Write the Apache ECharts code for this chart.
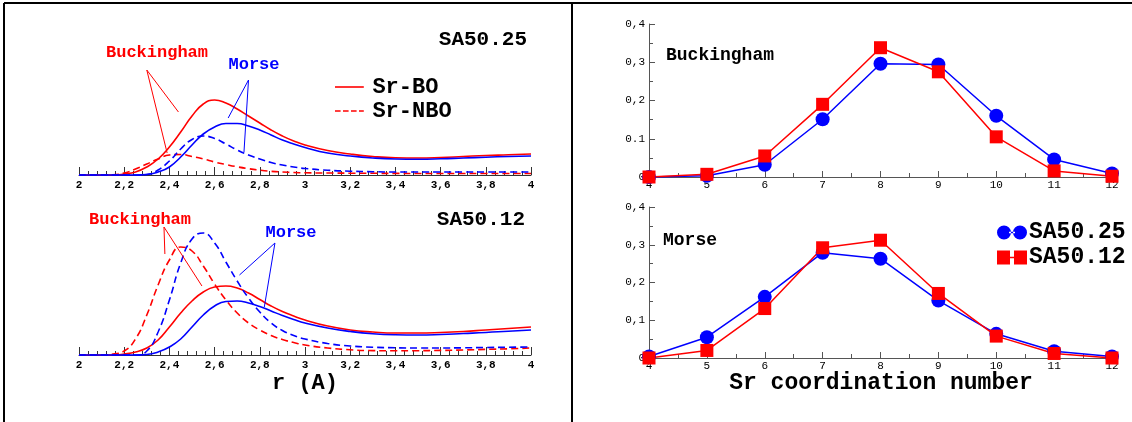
<!DOCTYPE html>
<html><head><meta charset="utf-8">
<script src="https://cdn.jsdelivr.net/npm/echarts@6/dist/echarts.min.js"></script>
<style>html,body{margin:0;padding:0;background:#fff}#c{width:1132px;height:422px}</style>
</head><body><div id="c"></div>
<script>
// ---------- Left panels: Sr-O pair distribution g(r), arbitrary units ----------
const rValues = [2.0,2.05,2.1,2.15,2.2,2.25,2.3,2.35,2.4,2.45,2.5,2.55,2.6,2.65,2.7,2.75,2.8,2.85,2.9,2.95,3.0,3.1,3.2,3.3,3.4,3.5,3.6,3.7,3.8,3.9,4.0];
// SA50.25
const g25_buckBO  = [0,0,0,0,0.1,0.3,0.8,1.6,2.8,4.3,5.9,7.1,7.5,7.2,6.6,5.9,5.2,4.5,3.9,3.4,3.0,2.45,2.1,1.85,1.72,1.7,1.75,1.85,1.95,2.02,2.1];
const g25_buckNBO = [0,0,0,0.02,0.2,0.6,1.1,1.6,2.0,2.05,1.85,1.6,1.3,1.05,0.82,0.63,0.48,0.37,0.3,0.25,0.22,0.2,0.18,0.17,0.16,0.15,0.15,0.15,0.15,0.15,0.15];
const g25_morBO   = [0,0,0,0,0,0,0.05,0.3,0.8,1.8,3.0,4.1,4.8,5.15,5.15,4.9,4.5,4.0,3.5,3.1,2.75,2.2,1.9,1.7,1.6,1.58,1.62,1.7,1.78,1.85,1.9];
const g25_morNBO  = [0,0,0,0,0,0,0.05,0.5,1.4,2.6,3.55,3.9,3.65,3.1,2.5,2.0,1.6,1.25,1.0,0.8,0.65,0.48,0.38,0.33,0.3,0.3,0.3,0.3,0.3,0.3,0.3];
// SA50.12
const g12_buckBO  = [0,0,0,0,0.1,0.3,0.7,1.5,2.8,4.2,5.4,6.3,6.8,6.9,6.7,6.2,5.55,4.9,4.35,3.9,3.5,2.9,2.5,2.3,2.2,2.2,2.25,2.35,2.5,2.65,2.8];
const g12_buckNBO = [0,0,0,0.1,0.4,1.6,4.0,7.0,9.5,10.8,10.4,8.9,7.1,5.5,4.2,3.2,2.5,1.95,1.55,1.25,1.0,0.7,0.52,0.44,0.42,0.43,0.46,0.5,0.56,0.62,0.7];
const g12_morBO   = [0,0,0,0,0,0,0.05,0.3,0.8,1.6,2.8,4.0,4.9,5.35,5.4,5.2,4.85,4.4,3.95,3.55,3.2,2.7,2.35,2.12,2.02,2.0,2.05,2.15,2.25,2.38,2.5];
const g12_morNBO  = [0,0,0,0,0,0,0.4,2.3,5.5,9.2,11.6,12.2,11.2,9.3,7.4,5.7,4.3,3.2,2.45,1.95,1.6,1.15,0.9,0.78,0.72,0.7,0.7,0.72,0.75,0.78,0.8];
const rTickLabels = ['2','2,2','2,4','2,6','2,8','3','3,2','3,4','3,6','3,8','4'];

// ---------- Right panels: Sr coordination number distribution ----------
const coordNumbers = [4,5,6,7,8,9,10,11,12];
const buck_SA5025  = [0.0,0.003,0.032,0.151,0.296,0.294,0.160,0.046,0.009];
const buck_SA5012  = [0.0,0.007,0.055,0.190,0.338,0.275,0.105,0.016,0.002];
const morse_SA5025 = [0.004,0.055,0.162,0.279,0.263,0.152,0.064,0.018,0.004];
const morse_SA5012 = [0.0,0.020,0.131,0.292,0.312,0.171,0.058,0.012,0.0];
const cnTickLabels = ['4','5','6','7','8','9','10','11','12'];
const yLabelsBuck  = ['0','0.1','0,2','0,3','0,4'];
const yLabelsMorse = ['0','0,1','0,2','0,3','0,4'];

// annotation pointer lines (data coordinates)
const ptrTL_buck  = [[2.30,10.5],[2.44,6.3],[2.39,2.2]];
const ptrTL_morse = [[2.75,9.5],[2.66,5.7],[2.73,2.3]];
const ptrBL_buck  = [[2.376,12.8],[2.38,10.1],[2.544,6.9]];
const ptrBL_morse = [[2.867,11.2],[2.71,8.0],[2.82,4.8]];

const RED = '#ff0000', BLUE = '#0000ff';
const MONO = '"Liberation Mono", "DejaVu Sans Mono", monospace';
const zip = (a, b) => a.map((v, i) => [v, b[i]]);
function pointer(p, color) {
  return {
    symbol: 'none', silent: true, animation: false,
    label: { show: false },
    lineStyle: { color: color, width: 1, type: 'solid' },
    emphasis: { disabled: true },
    data: [[{ coord: p[0] }, { coord: p[1] }], [{ coord: p[0] }, { coord: p[2] }]]
  };
}

const leftX = (gi) => ({
  type: 'value', gridIndex: gi, min: 2, max: 4, interval: 0.2,
  axisLine: { show: true, onZero: false, lineStyle: { color: '#333', width: 1 } },
  axisTick: { show: true, inside: true, length: 8, lineStyle: { color: '#333' } },
  minorTick: { show: true, splitNumber: 5, length: 4, lineStyle: { color: '#333' } },
  splitLine: { show: false },
  axisLabel: { color: '#000', fontFamily: MONO, fontSize: 11, fontWeight: 'bold', margin: 5,
    formatter: v => rTickLabels[Math.round((v - 2) / 0.2)] }
});
const leftY = (gi) => ({ type: 'value', gridIndex: gi, min: 0, max: 14.5, show: false });
const rightX = (gi) => ({
  type: 'value', gridIndex: gi, min: 4, max: 12, interval: 1,
  axisLine: { show: true, onZero: false, lineStyle: { color: '#555', width: 1 } },
  axisTick: { show: true, inside: true, length: 6, lineStyle: { color: '#555' } },
  minorTick: { show: true, splitNumber: 2, length: 4, lineStyle: { color: '#555' } },
  splitLine: { show: false },
  axisLabel: { color: '#000', fontFamily: MONO, fontSize: 11, margin: 3,
    formatter: v => cnTickLabels[Math.round(v - 4)] }
});
const rightY = (gi, labels) => ({
  type: 'value', gridIndex: gi, min: 0, max: 0.4, interval: 0.1,
  axisLine: { show: true, lineStyle: { color: '#555', width: 1 } },
  axisTick: { show: true, inside: true, length: 6, lineStyle: { color: '#555' } },
  minorTick: { show: true, splitNumber: 2, length: 4, lineStyle: { color: '#555' } },
  splitLine: { show: false },
  axisLabel: { color: '#000', fontFamily: MONO, fontSize: 11, margin: 4,
    formatter: v => labels[Math.round(v * 10)] }
});

function rdf(name, gi, g, color, dashed, mark) {
  const s = {
    name: name, type: 'line', xAxisIndex: gi, yAxisIndex: gi,
    data: zip(rValues, g), symbol: 'none', smooth: 0.5, clip: false,
    lineStyle: { color: color, width: 1.6, type: dashed ? [7, 4] : 'solid' },
    itemStyle: { color: color }, emphasis: { disabled: true }
  };
  if (mark) s.markLine = mark;
  return s;
}
function cn(name, gi, vals, color, sym, size) {
  return {
    name: name, type: 'line', xAxisIndex: gi, yAxisIndex: gi,
    data: zip(coordNumbers, vals), symbol: sym, symbolSize: size, clip: false,
    lineStyle: { color: color, width: 1.5 }, itemStyle: { color: color },
    emphasis: { disabled: true }
  };
}

function txt(x, y, text, size, color, align) {
  return { type: 'text', x: x, y: y, silent: true,
    style: { text: text, font: 'bold ' + size + 'px ' + MONO, fill: color,
      align: align || 'center', verticalAlign: 'middle' } };
}
function ln(x1, y1, x2, y2) {
  return { type: 'line', silent: true, shape: { x1, y1, x2, y2 }, style: { stroke: '#000', lineWidth: 2 } };
}

const chart = echarts.init(document.getElementById('c'), null, { renderer: 'canvas' });
chart.setOption({
  animation: false,
  backgroundColor: '#fff',
  grid: [
    { left: 79, width: 452, top: 30, height: 145 },
    { left: 79, width: 452, top: 210, height: 145 },
    { left: 649, width: 463, top: 24, height: 153 },
    { left: 649, width: 463, top: 207, height: 151 }
  ],
  xAxis: [leftX(0), leftX(1), rightX(2), rightX(3)],
  yAxis: [leftY(0), leftY(1), rightY(2, yLabelsBuck), rightY(3, yLabelsMorse)],
  legend: [
    { data: [
        { name: 'Sr-BO', icon: 'path://M0,0h36v2h-36z' },
        { name: 'Sr-NBO', icon: 'path://M0,0h7v2h-7zM10,0h7v2h-7zM20,0h7v2h-7zM30,0h6v2h-6z' } ],
      left: 330, top: 71, orient: 'vertical',
      itemWidth: 36, itemHeight: 1.6, itemGap: 2, selectedMode: false,
      textStyle: { fontFamily: MONO, fontSize: 22, fontWeight: 'bold', color: '#000', lineHeight: 16 } },
    { data: [
        { name: 'SA50.25', icon: 'path://M0,7a7,7 0 1,0 14,0a7,7 0 1,0 -14,0zM16,7a7,7 0 1,0 14,0a7,7 0 1,0 -14,0zM12,6.2h6v1.6h-6z' },
        { name: 'SA50.12', icon: 'path://M0,0h13v14h-13zM17,0h13v14h-13zM12,6.2h6v1.6h-6z' } ],
      left: 992, top: 216, orient: 'vertical', itemWidth: 30, itemHeight: 14, itemGap: 2, selectedMode: false,
      textStyle: { fontFamily: MONO, fontSize: 23, fontWeight: 'bold', color: '#000', lineHeight: 18, padding: [0, 0, 0, -3] } }
  ],
  series: [
    rdf('Sr-BO', 0, g25_buckBO, RED, false, pointer(ptrTL_buck, RED)),
    rdf('Sr-NBO', 0, g25_buckNBO, RED, true),
    rdf('Sr-BO Morse', 0, g25_morBO, BLUE, false, pointer(ptrTL_morse, BLUE)),
    rdf('Sr-NBO Morse', 0, g25_morNBO, BLUE, true),
    rdf('Sr-BO', 1, g12_buckBO, RED, false, pointer(ptrBL_buck, RED)),
    rdf('Sr-NBO', 1, g12_buckNBO, RED, true),
    rdf('Sr-BO Morse', 1, g12_morBO, BLUE, false, pointer(ptrBL_morse, BLUE)),
    rdf('Sr-NBO Morse', 1, g12_morNBO, BLUE, true),
    cn('SA50.25', 2, buck_SA5025, BLUE, 'circle', 14),
    cn('SA50.12', 2, buck_SA5012, RED, 'rect', 13),
    cn('SA50.25', 3, morse_SA5025, BLUE, 'circle', 14),
    cn('SA50.12', 3, morse_SA5012, RED, 'rect', 13)
  ],
  graphic: [
    ln(4, 3, 1132, 3), ln(4, 3, 4, 422), ln(572, 3, 572, 422),
    txt(157, 53, 'Buckingham', 17, RED),
    txt(254, 65, 'Morse', 17, BLUE),
    txt(527, 40, 'SA50.25', 21, '#000', 'right'),
    txt(140, 220, 'Buckingham', 17, RED),
    txt(291, 233, 'Morse', 17, BLUE),
    txt(525, 220, 'SA50.12', 21, '#000', 'right'),
    txt(305, 383, 'r (A)', 22, '#000'),
    txt(666, 55, 'Buckingham', 18, '#000', 'left'),
    txt(663, 240, 'Morse', 18, '#000', 'left'),
    txt(881, 383, 'Sr coordination number', 23, '#000')
  ]
});
</script></body></html>
